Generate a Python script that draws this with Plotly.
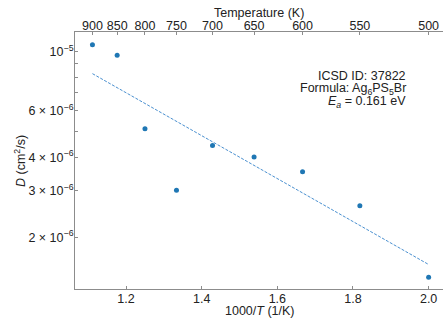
import numpy as np
import plotly.graph_objects as go

# Data
temperatures = [900, 850, 800, 750, 700, 650, 600, 550, 500]
diffusivity = [1.063e-5, 9.69e-6, 5.13e-6, 3.01e-6, 4.43e-6, 4.01e-6, 3.53e-6, 2.63e-6, 1.413e-6]
y_tick_values = [2e-6, 3e-6, 4e-6, 5e-6, 6e-6, 7e-6, 8e-6, 9e-6, 1e-5]
y_tick_labels = ["2 × 10<sup>−6</sup>", "3 × 10<sup>−6</sup>", "4 × 10<sup>−6</sup>", "",
                 "6 × 10<sup>−6</sup>", "", "", "", "10<sup>−5</sup>"]
x_tick_values = [1.2, 1.4, 1.6, 1.8, 2.0]
x_tick_labels = ["1.2", "1.4", "1.6", "1.8", "2.0"]
info_lines = ["ICSD ID: 37822", "Formula: Ag<sub>6</sub>PS<sub>5</sub>Br", "<i>E<sub>a</sub></i> = 0.161 eV"]

inv_t = [1000.0 / t for t in temperatures]
# Arrhenius fit in log space
coef = np.polyfit(inv_t, np.log10(diffusivity), 1)
fit_x = [min(inv_t), max(inv_t)]
fit_y = [10 ** np.polyval(coef, v) for v in fit_x]

FONT = "Liberation Sans, Arial, sans-serif"
FS = 12.5
SPINE = "#8c8c8c"
W, H = 443, 326
L, R, T, B = 75, 0, 32, 37
pw, ph = W - L - R, H - T - B

def px(x):
    return (x - L) / pw

def py(y):
    return (H - B - y) / ph

fig = go.Figure()
fig.add_trace(go.Scatter(x=fit_x, y=fit_y, mode="lines",
                         line=dict(color="#4a90d0", width=1, dash="3px,1.5px"),
                         showlegend=False, hoverinfo="skip"))
fig.add_trace(go.Scatter(x=inv_t, y=diffusivity, mode="markers",
                         marker=dict(color="#1f77b4", size=5),
                         showlegend=False))
fig.add_trace(go.Scatter(x=inv_t, y=diffusivity, mode="markers", xaxis="x2",
                         marker=dict(opacity=0), showlegend=False, hoverinfo="skip"))

xr = [1.065, 2.038]
fig.update_layout(
    width=W, height=H,
    margin=dict(l=L, r=R, t=T, b=B, pad=0),
    paper_bgcolor="white", plot_bgcolor="white",
    font=dict(family=FONT, size=FS, color="#222222"),
    xaxis=dict(range=xr, tickvals=x_tick_values, ticktext=x_tick_labels,
               ticks="inside", ticklen=3, tickcolor=SPINE, showline=True,
               linecolor=SPINE, linewidth=1, showgrid=False, zeroline=False,
               tickfont=dict(size=FS), ticklabelstandoff=-2),
    xaxis2=dict(range=xr, overlaying="x", side="top", tickvals=inv_t,
                ticktext=[str(t) for t in temperatures], ticks="inside",
                ticklen=3, tickcolor=SPINE, showline=True, linecolor=SPINE,
                linewidth=1, showgrid=False, zeroline=False, tickfont=dict(size=FS),
                ticklabelstandoff=-4),
    yaxis=dict(type="log", range=[-5.8938, -4.9258], tickvals=y_tick_values,
               ticktext=y_tick_labels, ticks="inside", ticklen=3, tickcolor=SPINE,
               showline=True, linecolor=SPINE, linewidth=1, showgrid=False,
               zeroline=False, tickfont=dict(size=FS), ticklabelstandoff=-2),
)

annotations = [
    dict(text="Temperature (K)", x=px(259), y=py(13), xref="paper", yref="paper",
         showarrow=False, xanchor="center", yanchor="middle", font=dict(size=FS)),
    dict(text="1000/<i>T</i> (1/K)", x=px(259), y=py(311), xref="paper", yref="paper",
         showarrow=False, xanchor="center", yanchor="middle", font=dict(size=FS)),
    dict(text="<i>D</i> (cm<sup>2</sup>/s)", x=px(20), y=py(161), xref="paper", yref="paper",
         showarrow=False, xanchor="center", yanchor="middle", textangle=-90, font=dict(size=FS)),
]
for i, line in enumerate(info_lines):
    annotations.append(dict(text=line, x=px(408), y=py(76 + 13 * i), xref="paper", yref="paper",
                            showarrow=False, xanchor="right", yanchor="middle", align="right",
                            font=dict(size=FS)))
fig.update_layout(annotations=annotations)

fig.write_html("out.html")
